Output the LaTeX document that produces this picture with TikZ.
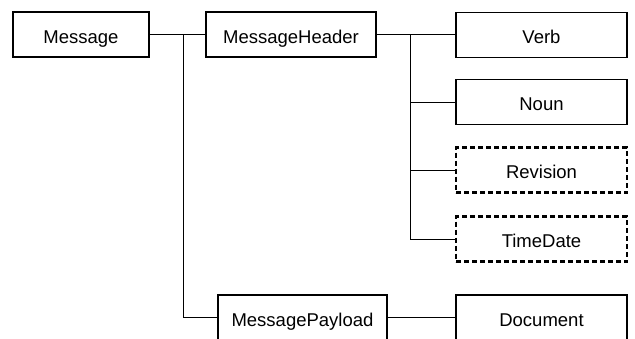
\documentclass[tikz,border=0pt]{standalone}
\usepackage{fontspec}
\setmainfont{Liberation Sans}
\begin{document}
\begin{tikzpicture}[x=1pt,y=-1pt,
  box/.style={draw=black,line width=1.2pt,rectangle,minimum height=45pt,inner sep=0pt,
    text height=17pt,text depth=0pt,
    font=\fontsize{18.5}{20}\selectfont},
  optbox/.style={box,dashed,line width=2.2pt,dash pattern=on 5pt off 3pt},
  link/.style={draw=black,line width=1pt}]
\useasboundingbox (0,0) rectangle (635,338);
\clip (0,0) rectangle (635,338);

% top level and the two children of Message
\node[box,minimum width=136pt] (msg) at (81,34.5) {Message};
\node[box,minimum width=170pt] (hdr) at (291,34.5) {MessageHeader};
\node[box,minimum width=169pt] (pay) at (302.5,317.5) {MessagePayload};

% header fields
\node[box,minimum width=171pt] (verb) at (541.5,35) {Verb};
\node[box,minimum width=171pt] (noun) at (541.5,102) {Noun};
\node[optbox,minimum width=171pt] (rev) at (541.5,170) {Revision};
\node[optbox,minimum width=171pt] (time) at (541.5,239) {TimeDate};

% payload content
\node[box,minimum width=171pt] (doc) at (541.5,317.5) {Document};

% branch points
\coordinate (j1) at (183,34.5);
\coordinate (j2) at (410,34.5);

\draw[link] (msg.east) -- (hdr.west);
\draw[link] (j1) |- (pay.west);
\draw[link] (hdr.east) -- (hdr.east -| verb.west);
\draw[link] (j2) |- (noun.west);
\draw[link] (j2) |- (rev.west);
\draw[link] (j2) |- (time.west);
\draw[link] (pay.east) -- (doc.west);
\end{tikzpicture}
\end{document}
